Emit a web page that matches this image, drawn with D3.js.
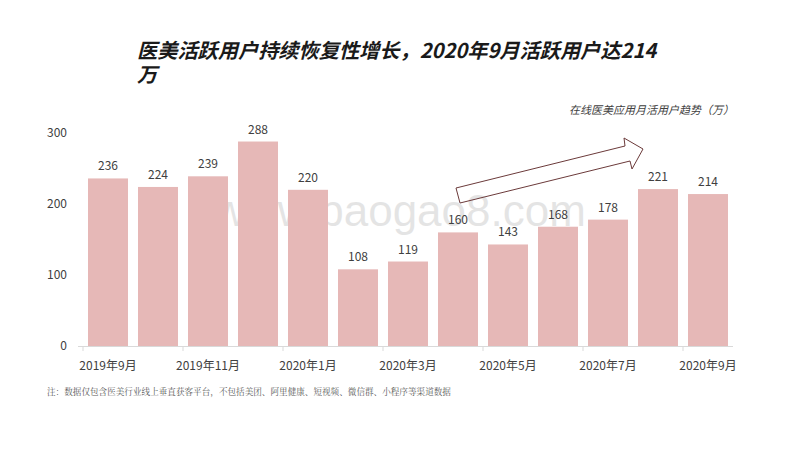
<!DOCTYPE html><html><head><meta charset="utf-8"><script src="https://d3js.org/d3.v7.min.js"></script>
<style>body{margin:0;background:#fff}</style></head><body><svg id="c" width="800" height="450"></svg>
<script>
const categories=["2019年9月","2019年10月","2019年11月","2019年12月","2020年1月","2020年2月","2020年3月","2020年4月","2020年5月","2020年6月","2020年7月","2020年8月","2020年9月"];
const values=[236,224,239,288,220,108,119,160,143,168,178,221,214];
const yTicks=[0,100,200,300];
const font="'Noto Sans CJK SC','Noto Sans',sans-serif";
const svg=d3.select("#c");
svg.append("text").attr("x",137).attr("y",58).attr("font-family",font).attr("font-size",20.2).attr("font-weight","bold").attr("font-style","italic").attr("fill","#1a1a1a").text("医美活跃用户持续恢复性增长，2020年9月活跃用户达214");
svg.append("text").attr("x",137).attr("y",82).attr("font-family",font).attr("font-size",20.2).attr("font-weight","bold").attr("font-style","italic").attr("fill","#1a1a1a").text("万");
svg.append("text").attr("x",734).attr("y",114).attr("text-anchor","end").attr("font-family",font).attr("font-size",11).attr("font-style","italic").attr("fill","#404040").text("在线医美应用月活用户趋势（万）");
const x=d3.scaleBand().domain(categories).range([83,733]).paddingInner(0.2).paddingOuter(0.1);
const y=d3.scaleLinear().domain([0,300]).range([346,133]);
svg.append("text").attr("x",400).attr("y",226).attr("text-anchor","middle").attr("font-family","'Liberation Sans',sans-serif").attr("font-size",44).attr("fill","#000").attr("opacity",0.1).text("www.baogao8.com");
svg.selectAll(".b").data(values).join("rect").attr("x",(d,i)=>x(categories[i])).attr("width",x.bandwidth()).attr("y",d=>y(d)).attr("height",d=>y(0)-y(d)).attr("fill","#e6b8b7");
svg.selectAll(".l").data(values).join("text").attr("x",(d,i)=>x(categories[i])+x.bandwidth()/2).attr("y",d=>y(d)-8).attr("text-anchor","middle").attr("font-family",font).attr("font-size",12).attr("fill","#404040").text(d=>d);
svg.selectAll(".yt").data(yTicks).join("text").attr("x",67).attr("y",d=>y(d)+4).attr("text-anchor","end").attr("font-family",font).attr("font-size",12).attr("fill","#404040").text(d=>d);
svg.append("line").attr("x1",78).attr("x2",733).attr("y1",346.5).attr("y2",346.5).attr("stroke","#d9d9d9");
categories.forEach((c,i)=>{ if(i%2==0){
 const cx=x(c)+x.bandwidth()/2;
 svg.append("line").attr("x1",cx-25).attr("x2",cx-25).attr("y1",346).attr("y2",351).attr("stroke","#d9d9d9");
 svg.append("text").attr("x",cx).attr("y",370).attr("text-anchor","middle").attr("font-family",font).attr("font-size",12).attr("fill","#404040").text(c);
}});
svg.append("polygon").attr("points","456,188 625,146 624,138 643,149 632,169 630,161 460,203").attr("fill","none").attr("stroke","#6b3a3a").attr("stroke-width",1);
svg.append("text").attr("x",47).attr("y",395).attr("font-family","'Noto Serif CJK SC','Noto Sans CJK SC',serif").attr("font-size",8.6).attr("fill","#595959").text("注：数据仅包含医美行业线上垂直获客平台，不包括美团、阿里健康、短视频、微信群、小程序等渠道数据");
</script></body></html>
